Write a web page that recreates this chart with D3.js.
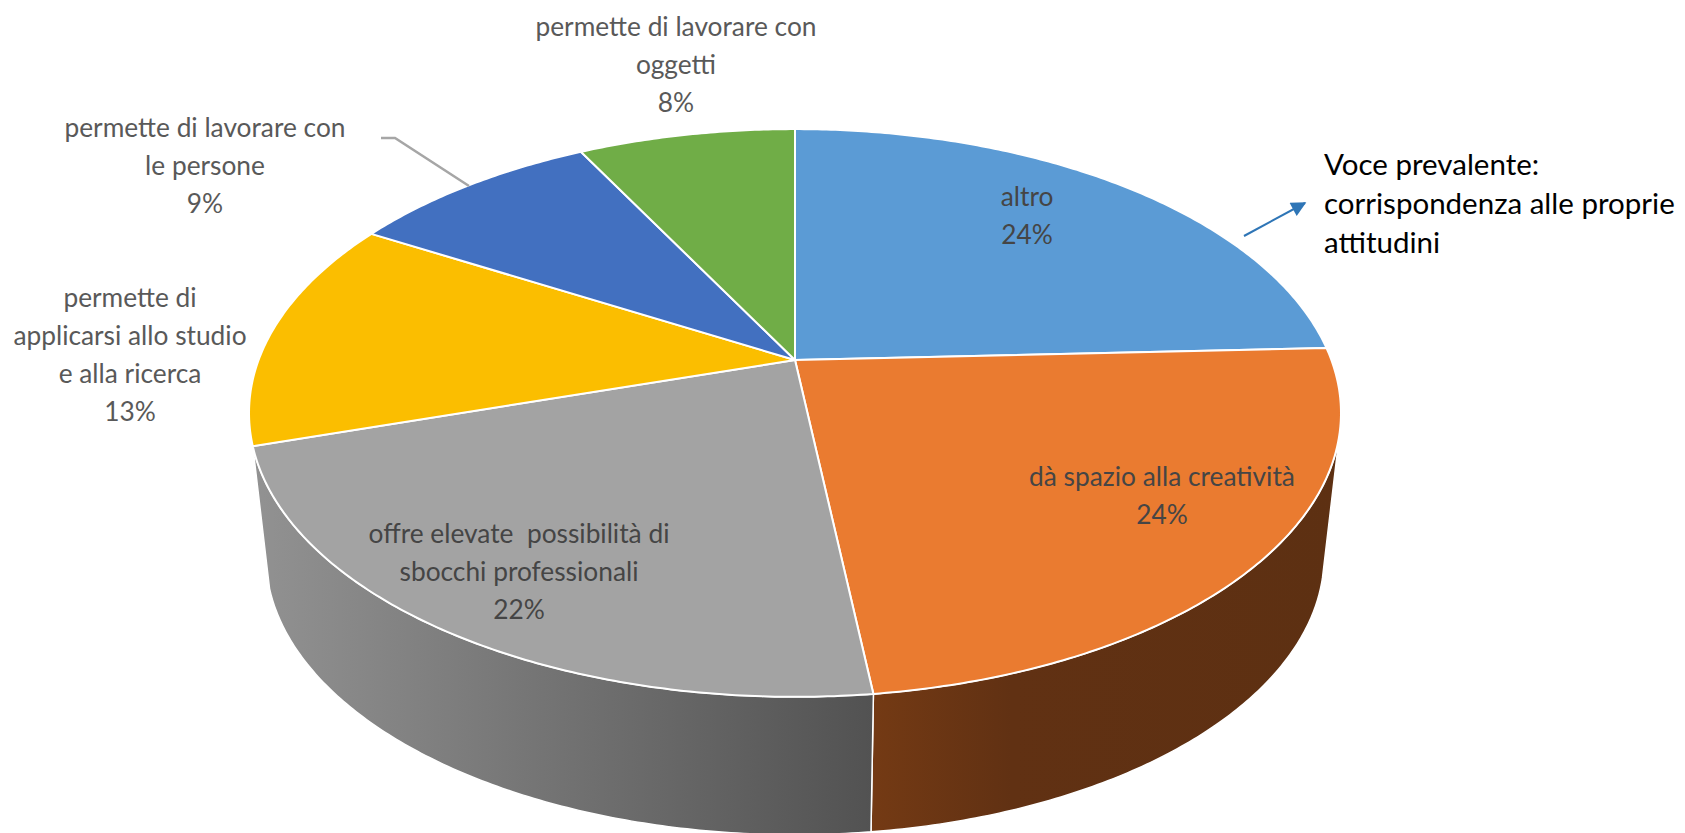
<!DOCTYPE html>
<html>
<head>
<meta charset="utf-8">
<script src="https://cdn.jsdelivr.net/npm/d3@7"></script>
<style>
  html, body { margin: 0; background: #fff; }
  svg { display: block; }
  text { font-family: Lato, "Open Sans", sans-serif; white-space: pre; }
</style>
</head>
<body>
<div id="chart"></div>
<script>
// Chart values, clockwise from 12 o'clock
const categories = [
    ["altro"],
    ["dà spazio alla creatività"],
    ["offre elevate  possibilità di", "sbocchi professionali"],
    ["permette di", "applicarsi allo studio", "e alla ricerca"],
    ["permette di lavorare con", "le persone"],
    ["permette di lavorare con", "oggetti"]
];
const shares = [24.3, 23.8, 22.1, 13.2, 8.9, 7.7];
const topColors = ["#5b9bd5", "#ea7b30", "#a3a3a3", "#fbbe00", "#4270c0", "#70ad47"];
const noteLines = ["Voce prevalente:", "corrispondenza alle proprie", "attitudini"];

// Hand placed label centres, same as the manual layout in the original
const labelX = [1027, 1162, 519, 130, 205, 676];
const labelY = [197, 477, 534, 298, 128, 27];

const width = 1685, height = 833;
const lineGap = 38;

// Perspective of the disc: top face and bottom face of the cylinder
const k = 0.1866;
const topFace = { cx: 795, cy: 360, a: 536.4, b: 274 };
const bottomFace = { cx: 795, cy: 504, a: 519.8, b: 269 };

function project(face, angle) {
    const u = Math.sin(angle), v = -Math.cos(angle), w = 1 - k * v;
    return [face.cx + face.a * u / w, face.cy + face.b * v / w];
}

// Part of the rim that can be seen from the camera
const rimStart = 105 * Math.PI / 180, rimEnd = 253 * Math.PI / 180;

function arcPoints(face, a0, a1) {
    const n = Math.max(2, Math.ceil(Math.abs(a1 - a0) / 0.01));
    return d3.range(n + 1).map(i => project(face, a0 + (a1 - a0) * i / n));
}

const svg = d3.select("#chart").append("svg")
    .attr("width", width).attr("height", height)
    .attr("viewBox", `0 0 ${width} ${height}`);

const defs = svg.append("defs");

function addGradient(id, stops) {
    const g = defs.append("linearGradient").attr("id", id)
        .attr("x1", 0).attr("x2", 1).attr("y1", 0).attr("y2", 0);
    stops.forEach(s => g.append("stop").attr("offset", s[0]).attr("stop-color", s[1]));
}
addGradient("rimOrange", [[0, "#743a14"], [0.3, "#613113"], [1, "#5d3012"]]);
addGradient("rimGray", [[0, "#929292"], [1, "#525252"]]);
const rimFill = { 1: "url(#rimOrange)", 2: "url(#rimGray)" };

const pie = d3.pie().sort(null).value(d => d);
const slices = pie(shares);
const line = d3.line();

// Rim first, so the top face sits over it
slices.forEach((d, i) => {
    const a0 = Math.max(d.startAngle, rimStart), a1 = Math.min(d.endAngle, rimEnd);
    if (a1 <= a0 || !rimFill[i]) return;
    const pts = arcPoints(topFace, a0, a1).concat(arcPoints(bottomFace, a1, a0));
    svg.append("path")
        .attr("d", line(pts) + "Z")
        .attr("fill", rimFill[i])
        .attr("stroke", "#fff")
        .attr("stroke-width", 1.5)
        .attr("stroke-linejoin", "round");
});

// Top face
svg.append("g").selectAll("path")
    .data(slices).enter()
    .append("path")
    .attr("d", d => line([[topFace.cx, topFace.cy]].concat(arcPoints(topFace, d.startAngle, d.endAngle))) + "Z")
    .attr("fill", (d, i) => topColors[i])
    .attr("stroke", "#fff")
    .attr("stroke-width", 2)
    .attr("stroke-linejoin", "round");

// Leader line of the "le persone" label
svg.append("path")
    .attr("d", line([[381, 138], [395, 138], [469, 186]]))
    .attr("fill", "none")
    .attr("stroke", "#a6a6a6")
    .attr("stroke-width", 2.5);

// Data labels
const labels = svg.append("g").selectAll("text")
    .data(slices).enter()
    .append("text")
    .attr("text-anchor", "middle")
    .attr("font-size", 26.3)
    .attr("fill", (d, i) => i < 3 ? "#454545" : "#595959");

labels.each(function(d, i) {
    const rows = categories[i].concat([Math.round(shares[i]) + "%"]);
    d3.select(this).selectAll("tspan")
        .data(rows).enter()
        .append("tspan")
        .attr("x", labelX[i])
        .attr("y", (r, j) => labelY[i] + 9 + j * lineGap)
        .text(r => r);
});

// Note on the right with its arrow
const arrowColor = "#2e75b6";
defs.append("marker").attr("id", "arrowHead")
    .attr("viewBox", "0 0 10 10").attr("refX", 9).attr("refY", 5)
    .attr("markerUnits", "userSpaceOnUse")
    .attr("markerWidth", 18).attr("markerHeight", 15)
    .attr("orient", "auto")
    .append("path").attr("d", "M0,0L10,5L0,10Z").attr("fill", arrowColor);

svg.append("line")
    .attr("x1", 1244).attr("y1", 236).attr("x2", 1305).attr("y2", 203)
    .attr("stroke", arrowColor).attr("stroke-width", 2)
    .attr("marker-end", "url(#arrowHead)");

svg.append("g").selectAll("text")
    .data(noteLines).enter()
    .append("text")
    .attr("x", 1324)
    .attr("y", (d, i) => 175 + i * 39)
    .attr("font-size", 29.5)
    .attr("fill", "#000")
    .text(d => d);
</script>
</body>
</html>
